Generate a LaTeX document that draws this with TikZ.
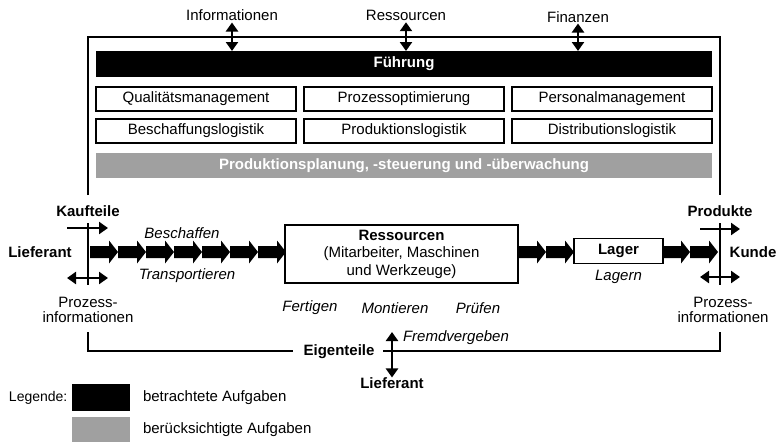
\documentclass[tikz,border=0pt]{standalone}
\usepackage{fontspec}
\setmainfont{Liberation Sans}
\usetikzlibrary{arrows.meta}
\definecolor{bargray}{RGB}{160,160,160}
\newcommand{\chevarrow}[2]{\fill (#1,#2-6) -- ++(19,0) -- ++(0,-5.5) -- ++(9,11.5) -- ++(-9,11.5) -- ++(0,-5.5) -- ++(-19,0) -- cycle;}
\begin{document}
\begin{tikzpicture}[x=1pt,y=-1pt,
  every node/.style={font=\fontsize{15}{15.5}\selectfont, inner sep=0pt, outer sep=0pt},
  bf/.style={font=\fontsize{15}{15.5}\selectfont\bfseries},
  it/.style={font=\fontsize{15}{15.5}\selectfont\itshape},
  framel/.style={line width=2.4pt},
  box/.style={draw, line width=1.1pt, fill=white, minimum height=24pt},
  flow/.style={line width=2.4pt, -{Triangle[length=9pt,width=12pt]}},
  dflow/.style={line width=2.4pt, {Triangle[length=9pt,width=12pt]}-{Triangle[length=9pt,width=12pt]}}
]
\useasboundingbox (0,0) rectangle (779,442);

% frame
\draw[framel] (88,195) -- (88,37) -- (720,37) -- (720,195);
\draw[framel] (88,223) -- (88,285);
\draw[framel] (720,223) -- (720,285);
\draw[framel] (88,332) -- (88,351) -- (293,351);
\draw[framel] (383,351) -- (720,351) -- (720,332);

% top labels
\node (info) at (232,15) {Informationen};
\node (ress) at (406,15) {Ressourcen};
\node (fin) at (578,17) {Finanzen};

% management block
\node[fill=black, text=white, bf, minimum width=616pt, minimum height=26pt] (fuehr) at (404,64) {Führung};
\draw[dflow, shorten <=2pt] (info.south) -- (info.south |- fuehr.north);
\draw[dflow, shorten <=2pt] (ress.south) -- (ress.south |- fuehr.north);
\draw[dflow, shorten <=1pt] (fin.south) -- (fin.south |- fuehr.north);

\node[box, minimum width=200pt] (qm) at (196,99) {Qualitätsmanagement};
\node[box, minimum width=200pt] (po) at (404,99) {Prozessoptimierung};
\node[box, minimum width=200pt] (pm) at (612,99) {Personalmanagement};
\node[box, minimum width=200pt] (bl) at (196,131) {Beschaffungslogistik};
\node[box, minimum width=200pt] (pl) at (404,131) {Produktionslogistik};
\node[box, minimum width=200pt] (dl) at (612,131) {Distributionslogistik};
\node[fill=bargray, text=white, bf, minimum width=616pt, minimum height=25pt] (pps) at (404,165.5) {Produktionsplanung, -steuerung und -überwachung};

% flow
\foreach \x in {90,118,146,174,202,230,258} {\chevarrow{\x}{252}}
\foreach \x in {518,546,662,690} {\chevarrow{\x}{252}}

\node[box, minimum width=233pt, minimum height=58pt, align=center, font=\fontsize{15}{17.5}\selectfont] (res) at (401.5,254) {\textbf{Ressourcen}\\(Mitarbeiter, Maschinen\\und Werkzeuge)};
\node[box, bf, minimum width=89pt, minimum height=25pt] (lager) at (618.5,251) {Lager};
\node[it] (lagern) at (618.5,277) {Lagern};

\node[it] (besch) at (182,233) {Beschaffen};
\node[it] (trans) at (187,276) {Transportieren};
\node[it] (fert) at (310,308) {Fertigen};
\node[it] (mont) at (395,308) {Montieren};
\node[it] (pruef) at (478,308) {Prüfen};

% left side
\node[bf] (kauf) at (88,211) {Kaufteile};
\node[bf] (lief1) at (40,252) {Lieferant};
\node[align=center] (pil) at (88,310) {Prozess-\\informationen};
\coordinate (ka) at (67,228);
\coordinate (kb) at (108,228);
\coordinate (pa) at (67,278);
\coordinate (pb) at (108,278);
\draw[flow] (ka) -- (kb);
\draw[dflow] (pa) -- (pb);

% right side
\node[bf] (prod) at (720,211) {Produkte};
\node[bf] (kunde) at (753,252) {Kunde};
\node[align=center] (pir) at (723,310) {Prozess-\\informationen};
\coordinate (ra) at (700,229);
\coordinate (rb) at (740,229);
\coordinate (rc) at (700,277);
\coordinate (rd) at (740,277);
\draw[flow] (ra) -- (rb);
\draw[dflow] (rc) -- (rd);

% bottom
\node[bf] (eigen) at (339,352) {Eigenteile};
\node[bf] (lief2) at (392,383) {Lieferant};
\node[it, anchor=west] (fremd) at (403,338) {Fremdvergeben};
\coordinate (fa) at (392,332);
\draw[dflow] (fa) -- (lief2.north);

% legend
\node[anchor=west, font=\fontsize{14}{15}\selectfont] (leg) at (9,398) {Legende:};
\node[fill=black, minimum width=58pt, minimum height=27pt] (lb) at (101,397.5) {};
\node[fill=bargray, minimum width=58pt, minimum height=25pt] (lg) at (101,429.5) {};
\node[anchor=west] (lbt) at (143,398) {betrachtete Aufgaben};
\node[anchor=west] (lgt) at (143,430) {berücksichtigte Aufgaben};
\end{tikzpicture}
\end{document}
